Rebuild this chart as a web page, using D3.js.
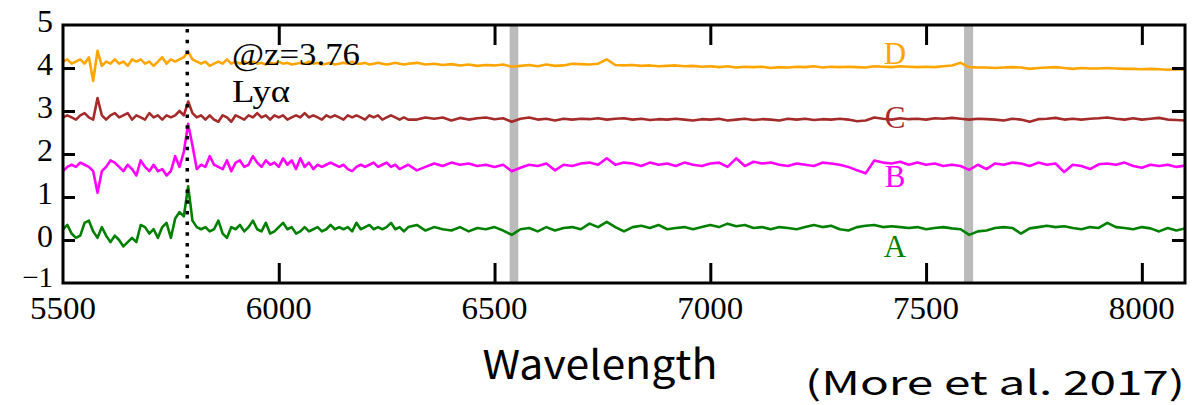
<!DOCTYPE html>
<html>
<head>
<meta charset="utf-8">
<script src="https://cdn.jsdelivr.net/npm/d3@7"></script>
<style>
  html, body { margin: 0; padding: 0; background: #fff; }
  svg { display: block; }
</style>
</head>
<body>
<svg id="chart" width="1198" height="405"></svg>
<script>
// ---------- data ----------
// wavelength grid: 10 Å steps over 5500-6300, 20 Å steps over 6320-8100
const wavelengths = d3.range(5500, 6301, 10).concat(d3.range(6320, 8101, 20));

const seriesNames = ["A", "B", "C", "D"];
const seriesColors = ["#008000", "#ff00ff", "#a52a2a", "#ffa500"];

const specA = [
  0.25,0.35,0.15,0.05,0.10,0.40,0.45,0.20,0.05,0.30,
  0.10,-0.05,0.10,0.00,-0.15,-0.05,0.05,-0.05,0.35,0.30,
  0.15,0.25,0.05,0.30,0.40,0.05,0.50,0.65,0.55,1.25,
  0.45,0.30,0.25,0.30,0.20,0.25,0.45,0.15,0.05,0.30,
  0.25,0.35,0.20,0.30,0.45,0.25,0.20,0.40,0.15,0.20,
  0.30,0.40,0.25,0.30,0.15,0.20,0.30,0.20,0.25,0.30,
  0.20,0.25,0.35,0.25,0.30,0.25,0.30,0.20,0.40,0.25,
  0.30,0.35,0.25,0.30,0.25,0.30,0.40,0.25,0.30,0.20,
  0.30,
  0.35,0.22,0.30,0.25,0.22,0.30,0.20,0.28,0.25,0.30,
  0.22,0.12,0.25,0.28,0.20,0.30,0.22,0.28,0.30,0.25,
  0.38,0.30,0.42,0.30,0.20,0.30,0.33,0.28,0.35,0.25,
  0.28,0.30,0.25,0.30,0.35,0.30,0.38,0.32,0.35,0.28,
  0.30,0.25,0.30,0.28,0.25,0.30,0.35,0.30,0.33,0.25,
  0.22,0.30,0.33,0.35,0.30,0.32,0.30,0.28,0.30,0.25,
  0.28,0.30,0.27,0.25,0.12,0.20,0.22,0.28,0.30,0.28,
  0.15,0.27,0.30,0.33,0.30,0.32,0.28,0.25,0.30,0.28,
  0.40,0.30,0.28,0.25,0.30,0.27,0.20,0.28,0.22,0.27
];
const specB = [
  1.60,1.70,1.75,1.70,1.80,1.75,1.70,1.60,1.10,1.60,
  1.70,1.85,1.80,1.70,1.60,1.75,1.65,1.50,1.85,1.70,
  1.60,1.75,1.60,1.65,1.50,1.60,1.95,1.70,2.05,2.70,
  2.20,1.65,1.75,1.70,1.95,1.75,1.70,1.65,1.85,1.60,
  1.80,1.85,1.70,1.75,1.95,1.80,1.70,1.85,1.75,1.80,
  1.70,1.90,1.75,1.85,1.65,1.90,1.70,1.80,1.65,1.75,
  1.70,1.75,1.80,1.75,1.70,1.75,1.65,1.60,1.70,1.75,
  1.70,1.75,1.80,1.70,1.75,1.80,1.70,1.75,1.65,1.70,
  1.75,
  1.62,1.70,1.78,1.72,1.80,1.75,1.78,1.72,1.75,1.70,
  1.75,1.60,1.68,1.75,1.72,1.78,1.62,1.75,1.72,1.78,
  1.80,1.75,1.90,1.75,1.80,1.78,1.72,1.80,1.75,1.78,
  1.72,1.80,1.75,1.72,1.78,1.80,1.70,1.90,1.72,1.82,
  1.78,1.80,1.75,1.72,1.78,1.75,1.72,1.80,1.78,1.75,
  1.70,1.62,1.55,1.85,1.80,1.78,1.82,1.75,1.80,1.75,
  1.78,1.72,1.75,1.72,1.63,1.75,1.65,1.78,1.75,1.80,
  1.78,1.72,1.80,1.75,1.78,1.58,1.75,1.72,1.65,1.76,
  1.78,1.75,1.80,1.72,1.68,1.75,1.72,1.75,1.70,1.73
];
const specC = [
  2.85,2.90,2.85,2.80,2.90,2.95,2.85,2.80,3.30,2.90,
  2.80,2.90,2.95,2.85,2.90,2.95,2.80,2.90,2.85,2.80,
  2.95,2.85,2.90,2.80,2.90,2.85,2.90,3.00,2.90,3.22,
  2.95,2.85,2.90,2.80,2.90,2.80,2.75,2.90,2.85,2.75,
  2.90,2.85,2.80,2.90,2.85,2.95,2.85,2.90,2.80,2.90,
  2.85,2.90,2.80,2.85,2.90,2.85,2.95,2.85,2.90,2.85,
  2.80,2.90,2.85,2.90,2.85,2.80,2.90,2.85,2.90,2.85,
  2.80,2.90,2.85,2.90,2.80,2.85,2.90,2.85,2.80,2.85,
  2.80,
  2.80,2.85,2.82,2.85,2.78,2.84,2.80,2.83,2.85,2.81,
  2.83,2.75,2.82,2.85,2.80,2.82,2.78,2.82,2.80,2.82,
  2.81,2.83,2.80,2.82,2.83,2.80,2.82,2.79,2.81,2.80,
  2.82,2.80,2.78,2.81,2.80,2.82,2.78,2.80,2.82,2.79,
  2.81,2.80,2.78,2.82,2.80,2.82,2.79,2.81,2.80,2.82,
  2.80,2.76,2.78,2.85,2.82,2.80,2.83,2.81,2.82,2.80,
  2.83,2.82,2.84,2.82,2.80,2.82,2.81,2.80,2.78,2.82,
  2.80,2.75,2.81,2.82,2.84,2.80,2.82,2.80,2.82,2.83,
  2.85,2.82,2.80,2.83,2.80,2.82,2.84,2.80,2.79,2.78
];
const specD = [
  4.15,4.20,4.10,4.15,4.20,4.10,4.25,3.70,4.40,4.05,
  4.15,4.10,4.20,4.10,4.15,4.05,4.20,4.15,4.20,4.10,
  4.15,4.05,4.15,4.25,4.10,4.20,4.15,4.20,4.25,4.38,
  4.20,4.15,4.10,4.15,4.05,4.10,4.15,4.10,4.20,4.10,
  4.15,4.10,4.15,4.10,4.15,4.10,4.12,4.08,4.12,4.10,
  4.15,4.10,4.12,4.08,4.10,4.12,4.10,4.15,4.10,4.12,
  4.08,4.10,4.12,4.08,4.10,4.12,4.10,4.15,4.10,4.10,
  4.12,4.08,4.10,4.12,4.10,4.08,4.10,4.12,4.10,4.08,
  4.10,
  4.12,4.08,4.10,4.07,4.09,4.06,4.08,4.05,4.07,4.06,
  4.08,4.03,4.05,4.07,4.04,4.08,4.05,4.06,4.10,4.09,
  4.08,4.10,4.20,4.07,4.06,4.07,4.05,4.06,4.04,4.05,
  4.06,4.04,4.05,4.03,4.04,4.02,4.04,4.01,4.03,4.02,
  4.03,4.00,4.02,4.01,4.03,4.02,4.04,4.01,4.03,4.02,
  4.03,4.02,4.01,4.04,4.03,4.02,4.04,4.03,4.02,4.03,
  4.02,4.04,4.06,4.12,4.02,4.01,4.01,4.00,4.01,4.02,
  4.01,3.98,4.00,4.01,4.02,4.00,3.98,4.00,3.99,3.99,
  4.00,3.99,3.98,3.98,3.97,3.98,3.97,3.96,3.97,3.96
];
const spectra = [specA, specB, specC, specD];

// series label anchor (data coords, text baseline)
const labelWl = [7428, 7428, 7428, 7428];
const labelVal = [-0.4, 1.23, 2.6, 4.09];

const xDomain = [5500, 8100];
const yDomain = [-1, 5];
const xTicks = [5500, 6000, 6500, 7000, 7500, 8000];
const yTicks = [-1, 0, 1, 2, 3, 4, 5];
const bands = [[6535, 6555], [7588, 7609]];
const lyaWl = 5788;
const annotation1 = "@z=3.76";
const annotation2 = "Lyα";
const xTitle = "Wavelength";
const credit = "(More et al. 2017)";

// ---------- drawing ----------
const svg = d3.select("#chart");
const L = 63, R = 1185, T = 25, B = 283;
const x = d3.scaleLinear().domain(xDomain).range([L, R]);
const y = d3.scaleLinear().domain(yDomain).range([B, T]);
const serif = "'Liberation Serif','Times New Roman',serif";
const sans = "'Noto Sans CJK JP','Noto Sans',sans-serif";

svg.append("clipPath").attr("id", "clip")
  .append("rect").attr("x", L).attr("y", T).attr("width", R - L).attr("height", B - T);

// grey bands
svg.append("g").selectAll("rect").data(bands).join("rect")
  .attr("x", d => x(d[0])).attr("width", d => x(d[1]) - x(d[0]))
  .attr("y", T).attr("height", B - T)
  .attr("fill", "#bbbbbb");

// spectra
const line = d3.line().x((d, i) => x(wavelengths[i])).y(d => y(d));
svg.append("g").attr("clip-path", "url(#clip)").selectAll("path").data(spectra).join("path")
  .attr("d", d => line(d))
  .attr("fill", "none")
  .attr("stroke", (d, i) => seriesColors[i])
  .attr("stroke-width", 2.6)
  .attr("stroke-linejoin", "round");

// Lyα dotted line
svg.append("line")
  .attr("x1", x(lyaWl)).attr("x2", x(lyaWl))
  .attr("y1", T + 4).attr("y2", B)
  .attr("stroke", "#000").attr("stroke-width", 3.5)
  .attr("stroke-dasharray", "3.5,7.2");

// axes with inward ticks
const xInner = xTicks.filter(t => t > xDomain[0]);
const yInner = yTicks.filter(t => t > yDomain[0] && t < yDomain[1]);
const xb = svg.append("g").attr("transform", `translate(0,${B})`)
  .call(d3.axisBottom(x).tickValues(xInner).tickSize(-20).tickFormat(""));
const xt = svg.append("g").attr("transform", `translate(0,${T})`)
  .call(d3.axisTop(x).tickValues(xInner).tickSize(-20).tickFormat(""));
const yl = svg.append("g").attr("transform", `translate(${L},0)`)
  .call(d3.axisLeft(y).tickValues(yInner).tickSize(-12).tickFormat(""));
const yr = svg.append("g").attr("transform", `translate(${R},0)`)
  .call(d3.axisRight(y).tickValues(yInner).tickSize(-13).tickFormat(""));
[xb, xt, yl, yr].forEach(g => {
  g.select(".domain").remove();
  g.selectAll(".tick line").attr("stroke", "#000").attr("stroke-width", 3);
});

// frame
svg.append("rect").attr("x", L).attr("y", T).attr("width", R - L).attr("height", B - T)
  .attr("fill", "none").attr("stroke", "#000").attr("stroke-width", 3);

// x tick labels
svg.append("g").selectAll("text").data(xTicks).join("text")
  .attr("x", d => x(d)).attr("y", 319)
  .attr("text-anchor", "middle")
  .attr("font-family", serif).attr("font-size", 31)
  .attr("textLength", 66).attr("lengthAdjust", "spacingAndGlyphs")
  .text(d => d);

// y tick labels
svg.append("g").selectAll("text").data(yTicks).join("text")
  .attr("x", 53).attr("y", d => y(d) + (d < 0 ? 4 : 7))
  .attr("text-anchor", "end")
  .attr("font-family", serif).attr("font-size", d => d < 0 ? 29 : 32)
  .text(d => d < 0 ? "\u2212" + Math.abs(d) : d);

// annotations
svg.append("text").attr("x", 232).attr("y", 65)
  .attr("font-family", serif).attr("font-size", 31)
  .attr("textLength", 128).attr("lengthAdjust", "spacingAndGlyphs")
  .text(annotation1);
svg.append("text").attr("x", 232).attr("y", 102)
  .attr("font-family", serif).attr("font-size", 31)
  .attr("textLength", 58).attr("lengthAdjust", "spacingAndGlyphs")
  .text(annotation2);

// series labels
svg.append("g").selectAll("text").data(seriesNames).join("text")
  .attr("x", (d, i) => x(labelWl[i])).attr("y", (d, i) => y(labelVal[i]))
  .attr("text-anchor", "middle")
  .attr("font-family", serif).attr("font-size", 31)
  .attr("fill", (d, i) => seriesColors[i])
  .text(d => d);

// axis title & credit
svg.append("text").attr("x", 600).attr("y", 379)
  .attr("text-anchor", "middle")
  .attr("font-family", sans).attr("font-size", 40)
  .attr("textLength", 235).attr("lengthAdjust", "spacingAndGlyphs")
  .text(xTitle);
svg.append("text").attr("x", 805).attr("y", 395)
  .attr("font-family", sans).attr("font-size", 33)
  .attr("textLength", 380).attr("lengthAdjust", "spacingAndGlyphs")
  .text(credit);
</script>
</body>
</html>
